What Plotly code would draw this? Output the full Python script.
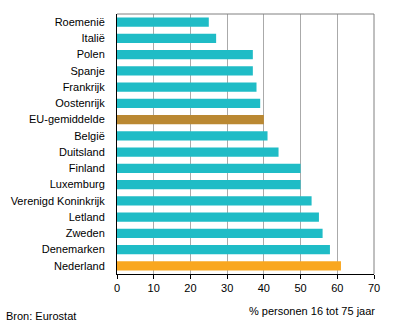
import plotly.graph_objects as go

countries = ["Roemenië", "Italië", "Polen", "Spanje", "Frankrijk", "Oostenrijk",
             "EU-gemiddelde", "België", "Duitsland", "Finland", "Luxemburg",
             "Verenigd Koninkrijk", "Letland", "Zweden", "Denemarken", "Nederland"]
values = [25, 27, 37, 37, 38, 39, 40, 41, 44, 50, 50, 53, 55, 56, 58, 61]

teal = "#1FBCC6"
colors = []
for c in countries:
    if c == "EU-gemiddelde":
        colors.append("#BA8832")
    elif c == "Nederland":
        colors.append("#F9A71F")
    else:
        colors.append(teal)

x_ticks = [0, 10, 20, 30, 40, 50, 60, 70]

fig = go.Figure(go.Bar(
    x=values, y=countries, orientation="h",
    marker=dict(color=colors, line=dict(width=0)),
))

font = dict(family="Liberation Sans, Arial, sans-serif", size=11, color="#000000")

fig.update_layout(
    width=396, height=324,
    margin=dict(l=117, r=22, t=14, b=50),
    paper_bgcolor="white", plot_bgcolor="white",
    font=font, showlegend=False, bargap=0.42,
    xaxis=dict(range=[0, 70], tickvals=x_ticks, showgrid=True,
               gridcolor="#AAAAAA", gridwidth=1, zeroline=False,
               showline=True, linecolor="#000000", linewidth=1,
               ticks="outside", ticklen=4, tickcolor="#000000",
               tickfont=font, fixedrange=True),
    yaxis=dict(categoryorder="array", categoryarray=countries,
               autorange="reversed", showgrid=False, zeroline=False,
               showline=True, linecolor="#000000", linewidth=1,
               ticks="", ticklabelstandoff=9, tickfont=font, fixedrange=True),
    shapes=[
        dict(type="line", xref="paper", yref="paper", x0=0, x1=1, y0=1, y1=1,
             line=dict(color="#808080", width=1)),
        dict(type="line", xref="paper", yref="paper", x0=1, x1=1, y0=0, y1=1,
             line=dict(color="#808080", width=1)),
    ],
    annotations=[
        dict(text="% personen 16 tot 75 jaar", xref="paper", yref="paper",
             x=1.012, y=-0.142, xanchor="right", yanchor="middle",
             showarrow=False, font=font),
        dict(text="Bron: Eurostat", xref="paper", yref="paper",
             x=-0.44, y=-0.162, xanchor="left", yanchor="middle",
             showarrow=False, font=font),
    ],
)

fig.write_html("out.html")
